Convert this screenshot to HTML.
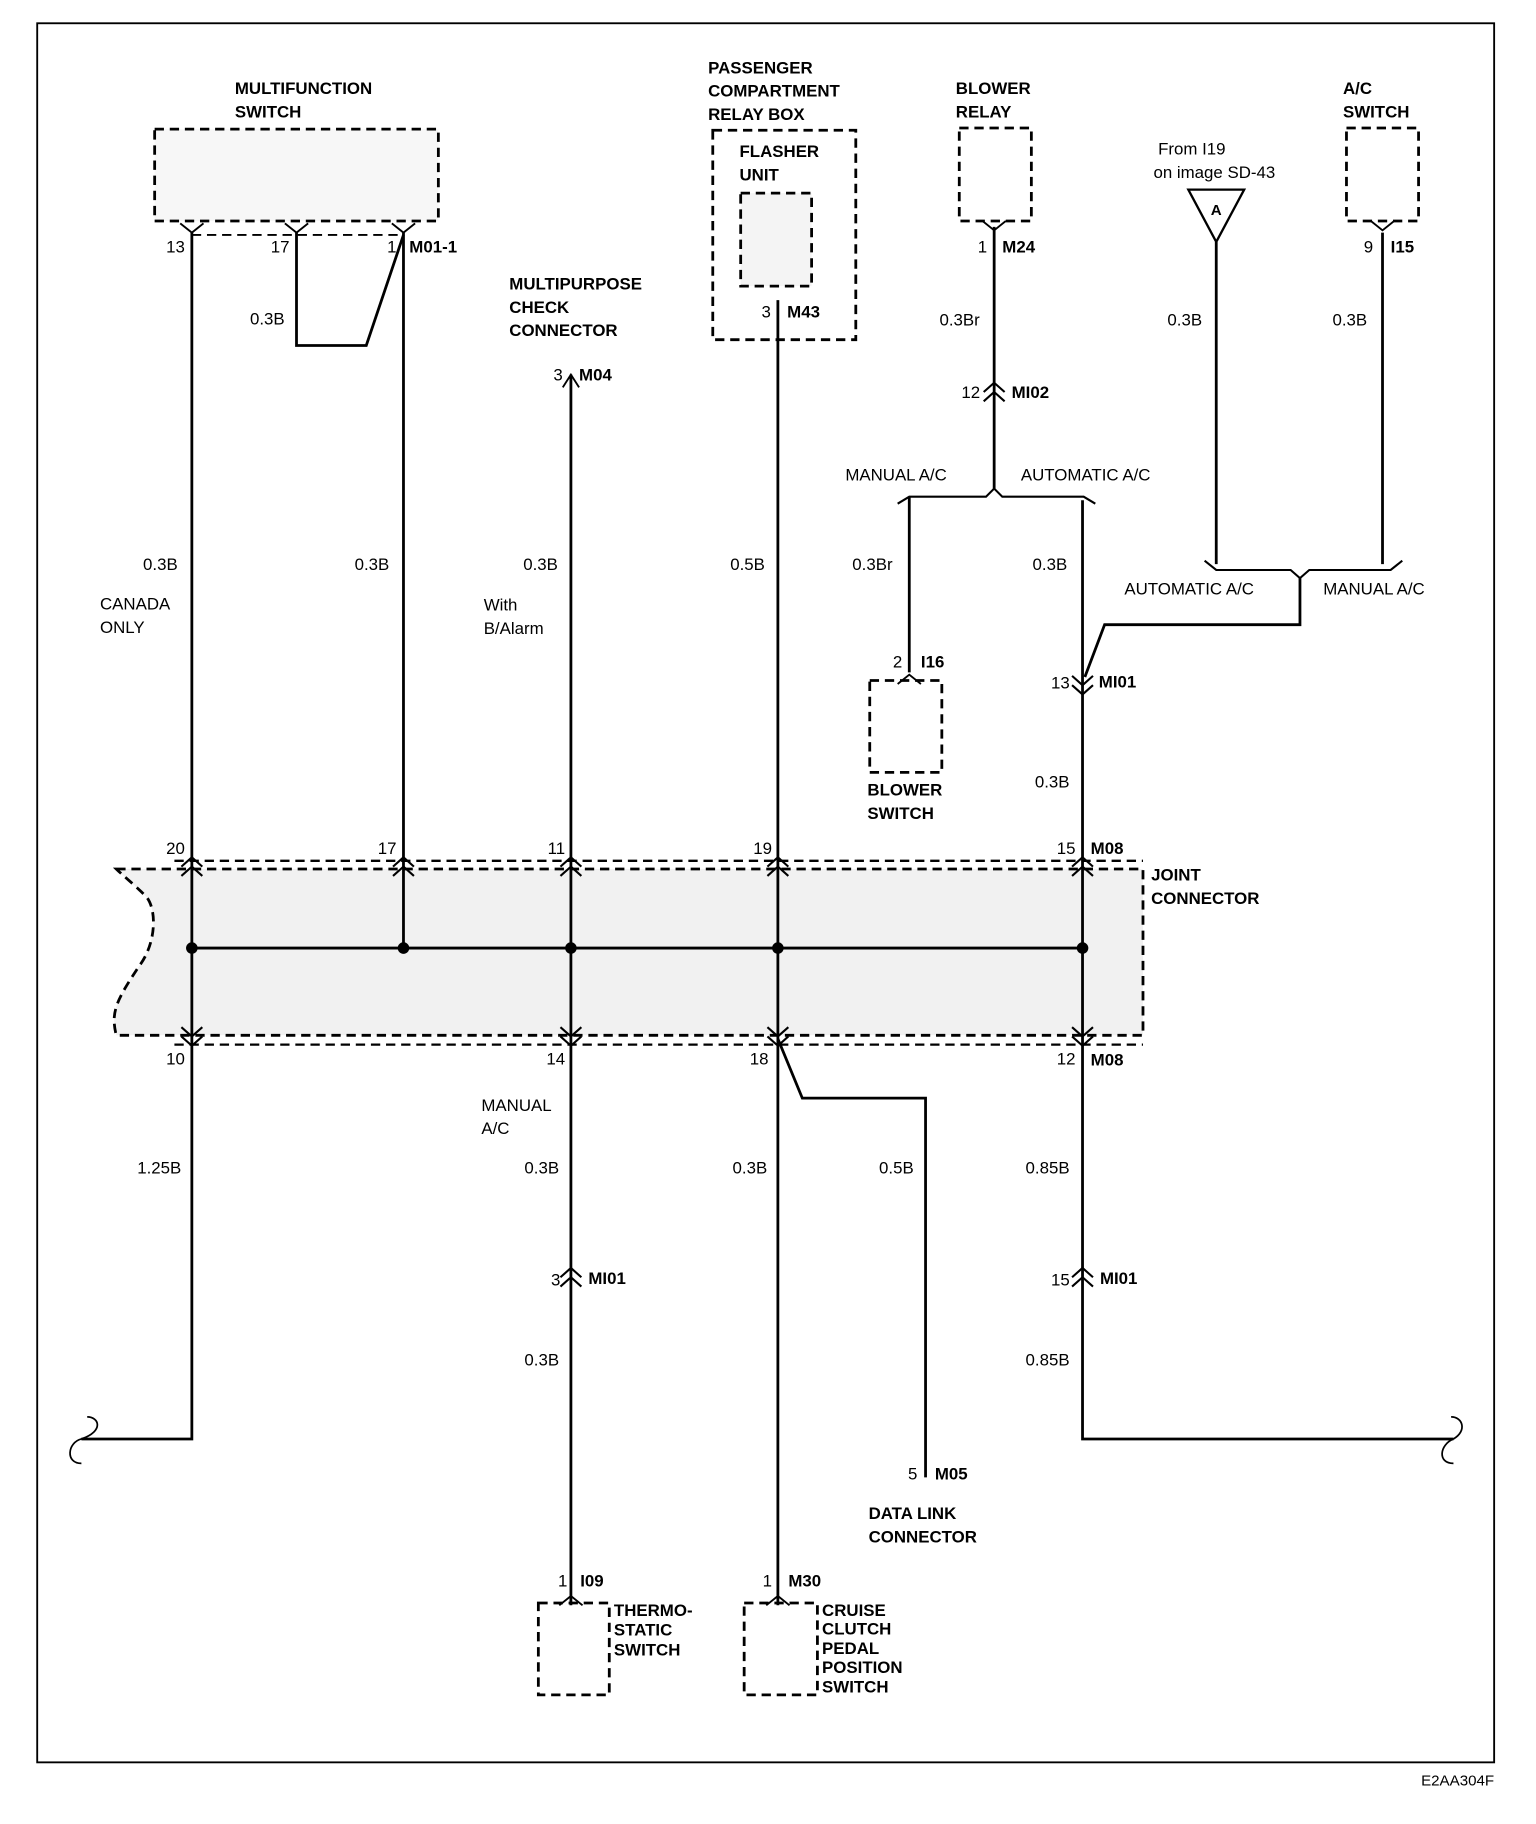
<!DOCTYPE html>
<html><head><meta charset="utf-8">
<style>
html,body{margin:0;padding:0;background:#fff;}
svg{display:block;}
text{font-family:"Liberation Sans",Arial,sans-serif;font-size:14.5px;fill:#000;}
.b{font-weight:bold;}
</style></head>
<body>
<svg width="1536" height="1824" viewBox="0 0 1321 1568" preserveAspectRatio="none" xmlns="http://www.w3.org/2000/svg">
<defs>
<g id="dup"><path d="M-9,8 L0,0 L9,8 M-9,16 L0,8 L9,16" fill="none" stroke="#000" stroke-width="1.8"/></g>
<g id="ddn"><path d="M-9,-8 L0,0 L9,-8 M-9,-16 L0,-8 L9,-16" fill="none" stroke="#000" stroke-width="1.8"/></g>
<g id="ty"><path d="M-10,-8 L0,0 L10,-8" fill="none" stroke="#000" stroke-width="1.6"/></g>
<g id="tv"><path d="M-10,8 L0,0 L10,8" fill="none" stroke="#000" stroke-width="1.6"/></g>
</defs>
<rect x="32" y="20" width="1253" height="1495" fill="none" stroke="#000" stroke-width="1.6"/>
<text x="1285" y="1535" text-anchor="end" style="font-size:13px">E2AA304F</text>

<g fill="none" stroke="#000" stroke-width="2.4" stroke-dasharray="8,5">
<rect x="133" y="111" width="244" height="79" fill="#f7f7f7"/>
<rect x="613" y="112" width="123" height="180"/>
<rect x="637" y="166" width="61" height="80" fill="#f4f4f4"/>
<rect x="825" y="110" width="62" height="80"/>
<rect x="1158" y="110" width="62" height="80"/>
<rect x="748" y="585" width="62" height="79"/>
<rect x="463" y="1378" width="61" height="79"/>
<rect x="640" y="1378" width="63" height="79"/>
<path d="M165,202 L347,202" stroke-width="1.6"/>
<path d="M150,740 L983,740" stroke-width="2"/>
<path d="M150,898 L983,898" stroke-width="2"/>
<path d="M100,747 L983,747 L983,890 L100,890 C95,870 100,860 120,830 C135,810 135,780 125,770 C115,760 105,752 100,747 Z" fill="#f1f1f1"/>
</g>

<g fill="none" stroke="#000" stroke-width="2.4">
<path d="M165,200 V1237 H70"/>
<path d="M70,1237 C90,1230 85,1218 75,1218 M70,1237 C58,1240 56,1258 70,1258" stroke-width="1.5"/>
<path d="M255,200 V297 H315 L347,202"/>
<path d="M347,200 V815"/>
<path d="M491,322 V1380"/>
<path d="M669,258 V1380"/>
<path d="M669,893 L690,944 H796 V1270"/>
<path d="M855,195 V420"/>
<path d="M772,433 L782,427 H848 L855,420 L862,427 H932 L942,433" stroke-width="1.8"/>
<path d="M782,427 V578"/>
<path d="M931,430 V1237 H1250"/>
<path d="M1250,1237 C1262,1230 1258,1218 1248,1218 M1250,1237 C1238,1242 1236,1258 1250,1258" stroke-width="1.5"/>
<path d="M1046,208 V485"/>
<path d="M1189,200 V485"/>
<path d="M1036,482 L1046,490 H1110 L1118,497 L1126,490 H1196 L1206,482" stroke-width="1.8"/>
<path d="M1118,497 V537 H950 L933,582"/>
<path d="M165,815 H931" stroke-width="2.4"/>
</g>
<g fill="#000">
<circle cx="165" cy="815" r="5"/><circle cx="347" cy="815" r="5"/><circle cx="491" cy="815" r="5"/><circle cx="669" cy="815" r="5"/><circle cx="931" cy="815" r="5"/>
</g>
<path d="M1022,163 H1070 L1046,208 Z" fill="#fff" stroke="#000" stroke-width="2"/>
<text x="1046" y="185" text-anchor="middle" class="b" style="font-size:13px">A</text>

<use href="#ty" x="165" y="200"/><use href="#ty" x="255" y="200"/><use href="#ty" x="347" y="200"/>
<use href="#ty" x="855" y="198"/><use href="#ty" x="1189" y="198"/>
<use href="#tv" x="782" y="580"/><use href="#tv" x="491" y="1372"/><use href="#tv" x="669" y="1372"/>
<path d="M484,333 L491,322 L498,333" fill="none" stroke="#000" stroke-width="1.6"/>
<use href="#dup" x="855" y="329"/>
<use href="#ddn" x="931" y="597"/>
<use href="#dup" x="165" y="737"/><use href="#dup" x="347" y="737"/><use href="#dup" x="491" y="737"/><use href="#dup" x="669" y="737"/><use href="#dup" x="931" y="737"/>
<use href="#ddn" x="165" y="899"/><use href="#ddn" x="491" y="899"/><use href="#ddn" x="669" y="899"/><use href="#ddn" x="931" y="899"/>
<use href="#dup" x="491" y="1090"/><use href="#dup" x="931" y="1090"/>

<g class="b">
<text x="202" y="81">MULTIFUNCTION</text><text x="202" y="101">SWITCH</text>
<text x="609" y="63">PASSENGER</text><text x="609" y="83">COMPARTMENT</text><text x="609" y="103">RELAY BOX</text>
<text x="636" y="135">FLASHER</text><text x="636" y="155">UNIT</text>
<text x="822" y="81">BLOWER</text><text x="822" y="101">RELAY</text>
<text x="1155" y="81">A/C</text><text x="1155" y="101">SWITCH</text>
<text x="438" y="249">MULTIPURPOSE</text><text x="438" y="269">CHECK</text><text x="438" y="289">CONNECTOR</text>
<text x="746" y="684">BLOWER</text><text x="746" y="704">SWITCH</text>
<text x="990" y="757">JOINT</text><text x="990" y="777">CONNECTOR</text>
<text x="747" y="1306">DATA LINK</text><text x="747" y="1326">CONNECTOR</text>
<text x="528" y="1389">THERMO-</text><text x="528" y="1406">STATIC</text><text x="528" y="1423">SWITCH</text>
<text x="707" y="1389">CRUISE</text><text x="707" y="1405">CLUTCH</text><text x="707" y="1422">PEDAL</text><text x="707" y="1438">POSITION</text><text x="707" y="1455">SWITCH</text>
<text x="352" y="217">M01-1</text><text x="677" y="273">M43</text><text x="498" y="327">M04</text>
<text x="862" y="217">M24</text><text x="1196" y="217">I15</text><text x="870" y="342">MI02</text>
<text x="792" y="574">I16</text><text x="945" y="591">MI01</text>
<text x="938" y="734">M08</text><text x="938" y="916">M08</text>
<text x="506" y="1104">MI01</text><text x="946" y="1104">MI01</text>
<text x="804" y="1272">M05</text><text x="499" y="1364">I09</text><text x="678" y="1364">M30</text>
</g>
<g>
<text x="159" y="217" text-anchor="end">13</text><text x="249" y="217" text-anchor="end">17</text><text x="341" y="217" text-anchor="end">1</text>
<text x="663" y="273" text-anchor="end">3</text><text x="484" y="327" text-anchor="end">3</text>
<text x="849" y="217" text-anchor="end">1</text><text x="1181" y="217" text-anchor="end">9</text>
<text x="843" y="342" text-anchor="end">12</text><text x="776" y="574" text-anchor="end">2</text><text x="920" y="592" text-anchor="end">13</text>
<text x="159" y="734" text-anchor="end">20</text><text x="341" y="734" text-anchor="end">17</text><text x="486" y="734" text-anchor="end">11</text><text x="664" y="734" text-anchor="end">19</text><text x="925" y="734" text-anchor="end">15</text>
<text x="159" y="915" text-anchor="end">10</text><text x="486" y="915" text-anchor="end">14</text><text x="661" y="915" text-anchor="end">18</text><text x="925" y="915" text-anchor="end">12</text>
<text x="482" y="1105" text-anchor="end">3</text><text x="920" y="1105" text-anchor="end">15</text>
<text x="789" y="1272" text-anchor="end">5</text><text x="488" y="1364" text-anchor="end">1</text><text x="664" y="1364" text-anchor="end">1</text>
<text x="996" y="133">From I19</text><text x="992" y="153">on image SD-43</text>
<text x="215" y="279">0.3B</text><text x="808" y="280">0.3Br</text><text x="1004" y="280">0.3B</text><text x="1146" y="280">0.3B</text>
<text x="727" y="413">MANUAL A/C</text><text x="878" y="413">AUTOMATIC A/C</text>
<text x="123" y="490">0.3B</text><text x="305" y="490">0.3B</text><text x="450" y="490">0.3B</text><text x="628" y="490">0.5B</text><text x="733" y="490">0.3Br</text><text x="888" y="490">0.3B</text>
<text x="967" y="511">AUTOMATIC A/C</text><text x="1138" y="511">MANUAL A/C</text>
<text x="86" y="524">CANADA</text><text x="86" y="544">ONLY</text>
<text x="416" y="525">With</text><text x="416" y="545">B/Alarm</text>
<text x="890" y="677">0.3B</text>
<text x="414" y="955">MANUAL</text><text x="414" y="975">A/C</text>
<text x="118" y="1009">1.25B</text><text x="451" y="1009">0.3B</text><text x="630" y="1009">0.3B</text><text x="756" y="1009">0.5B</text><text x="882" y="1009">0.85B</text>
<text x="451" y="1174">0.3B</text><text x="882" y="1174">0.85B</text>
</g>
</svg>
</body></html>
